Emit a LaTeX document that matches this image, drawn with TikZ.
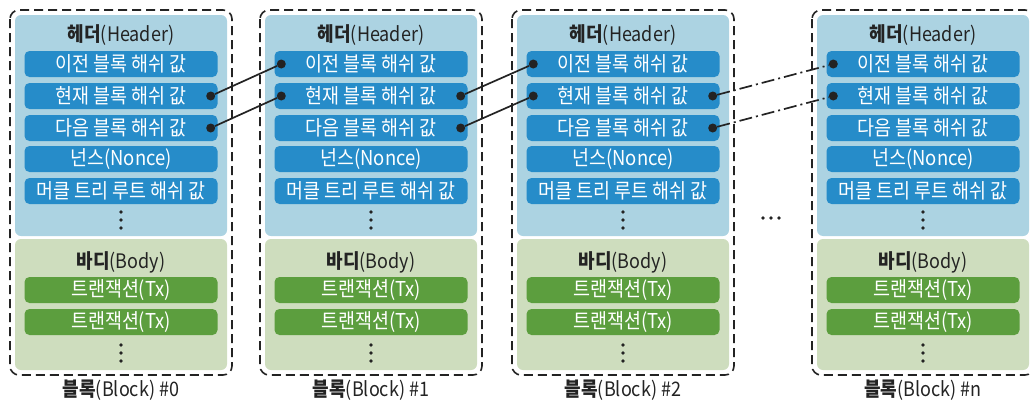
\documentclass[tikz,border=0pt]{standalone}
\usepackage{fontspec}
\setmainfont{Noto Sans CJK KR}
\newfontfamily\narrowfont[FakeStretch=0.9]{Noto Sans CJK KR}
\usetikzlibrary{positioning,calc}
\definecolor{hdrfill}{RGB}{172,211,226}
\definecolor{hdrbar}{RGB}{38,140,201}
\definecolor{bodyfill}{RGB}{206,221,190}
\definecolor{bodybar}{RGB}{92,158,62}
\definecolor{inkgray}{RGB}{35,35,35}
\tikzset{%
	blockline/.style = {draw=inkgray, line width=1.6pt, dash pattern=on 9pt off 5pt, rounded corners=9pt},
	hdrpart/.style   = {fill=hdrfill, rounded corners=6pt},
	bodypart/.style  = {fill=bodyfill, rounded corners=6pt},
	hashbar/.style   = {fill=hdrbar, rounded corners=5pt, minimum width=193pt, minimum height=26pt, inner sep=0pt, text=white, font=\narrowfont\fontsize{20.5}{20.5}\selectfont},
	txbar/.style     = {hashbar, fill=bodybar},
	parttitle/.style = {text=inkgray, font=\narrowfont\fontsize{20}{20}\selectfont},
	link/.style      = {draw=inkgray, line width=1.7pt},
	dashlink/.style  = {link, dash pattern=on 13pt off 4pt on 2pt off 4pt},
	linkdot/.style   = {circle, fill=inkgray, minimum size=9pt, inner sep=0pt},
}
\begin{document}
\begin{tikzpicture}[x=1pt,y=-1pt]
	\useasboundingbox (0,0) rectangle (1030,407);
	\foreach \bx/\n in {10/0,260/1,512/2,812/n}{
		\begin{scope}[xshift=\bx pt]
			\fill[hdrpart] (5,15) rectangle (217,236);  % header part
			\fill[bodypart] (5,239) rectangle (217,370);  % body part
			\draw[blockline] (0,10) rectangle (222,375);
			\node[parttitle] (head\n) at (111,35) {\textbf{헤더}(Header)};
			\node[hashbar] (bar\n-1) at (111,64) {이전 블록 해쉬 값};
			\node[hashbar] (bar\n-2) at (111,96) {현재 블록 해쉬 값};
			\node[hashbar] (bar\n-3) at (111,128) {다음 블록 해쉬 값};
			\node[hashbar] (bar\n-4) at (111,159) {넌스(Nonce)};
			\node[hashbar] (bar\n-5) at (111,191) {머클 트리 루트 해쉬 값};
			\foreach \d in {-8,0,8} \fill[inkgray] (111,220+\d) circle (1.8);
			\node[parttitle] (body\n) at (111,262) {\textbf{바디}(Body)};
			\node[txbar] (tx\n-1) at (111,290) {트랜잭션(Tx)};
			\node[txbar] (tx\n-2) at (111,322) {트랜잭션(Tx)};
			\foreach \d in {-8,0,8} \fill[inkgray] (111,353+\d) circle (1.8);
			\node[parttitle] (label\n) at (111,390) {\textbf{블록}(Block) \#\n};
		\end{scope}
	}
	% link dots
	\foreach \n in {0,1,2}{
		\node[linkdot] (r\n-2) at ([xshift=-7pt]bar\n-2.east) {};
		\node[linkdot] (r\n-3) at ([xshift=-7pt]bar\n-3.east) {};
	}
	\foreach \n in {1,2,n}{
		\node[linkdot] (l\n-1) at ([xshift=7pt]bar\n-1.west) {};
		\node[linkdot] (l\n-2) at ([xshift=7pt]bar\n-2.west) {};
	}
	\draw[link] (r0-2) -- (l1-1);
	\draw[link] (r0-3) -- (l1-2);
	\draw[link] (r1-2) -- (l2-1);
	\draw[link] (r1-3) -- (l2-2);
	\draw[dashlink] (r2-2) -- (ln-1);
	\draw[dashlink] (r2-3) -- (ln-2);
	\foreach \d in {-8,0,8} \fill[inkgray] (771+\d,218) circle (1.8);
\end{tikzpicture}
\end{document}
